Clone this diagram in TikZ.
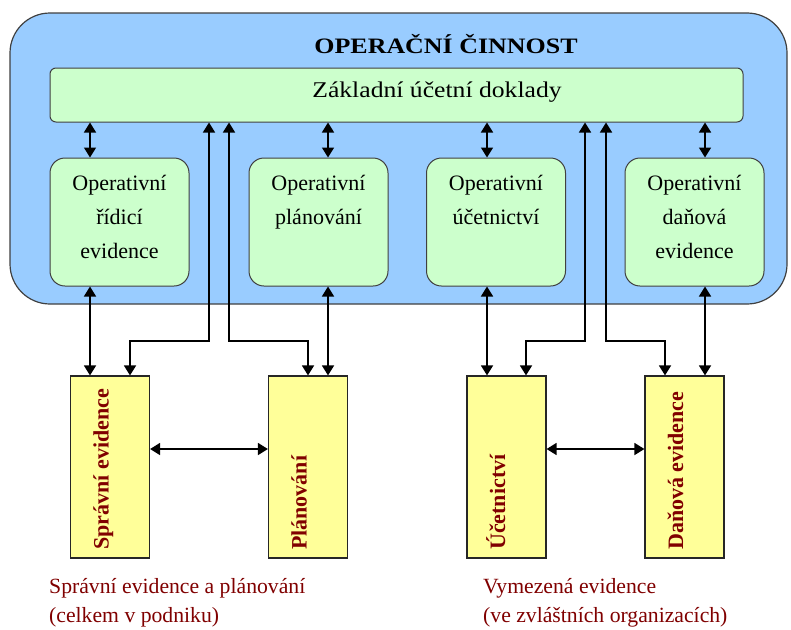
\documentclass[tikz,border=0pt]{standalone}
\usepackage{fontspec}
\setmainfont{Liberation Serif}
\newfontfamily\titlefont[FakeStretch=1.18]{Liberation Serif}
\newfontfamily\barfont[FakeStretch=1.14]{Liberation Serif}
\usetikzlibrary{arrows.meta}

\definecolor{opblue}{RGB}{153,204,255}
\definecolor{opgreen}{RGB}{204,255,204}
\definecolor{opyellow}{RGB}{255,255,153}
\definecolor{opred}{RGB}{128,0,0}
\definecolor{opedge}{RGB}{64,64,64}

\tikzset{
  opframe/.style={draw=opedge, line width=1.2pt, fill=opblue, rounded corners=40pt,
    minimum width=777pt, minimum height=291pt, inner sep=0pt},
  opbar/.style={draw=opedge, line width=1pt, fill=opgreen, rounded corners=6pt,
    minimum width=693pt, minimum height=54pt, inner sep=0pt},
  opbox/.style={draw=opedge, line width=1pt, fill=opgreen, rounded corners=15pt,
    minimum width=139pt, minimum height=128pt, inner sep=0pt},
  optext/.style={font=\fontsize{22}{34}\selectfont, align=center, inner sep=0pt, anchor=north},
  ybox/.style={draw=black!85, line width=1.2pt, fill=opyellow,
    minimum width=79pt, minimum height=182pt, inner sep=0pt},
  vlabel/.style={rotate=90, anchor=base west, inner sep=0pt, text=opred,
    font=\bfseries\fontsize{22}{26}\selectfont},
  caption/.style={anchor=base west, inner sep=0pt, text=opred,
    font=\fontsize{21.7}{26}\selectfont},
  link/.style={line width=1.6pt,
    {Triangle[length=10pt,width=12pt]}-{Triangle[length=10pt,width=12pt]}}
}

\begin{document}
\begin{tikzpicture}[x=1pt,y=-1pt]
\useasboundingbox (0,0) rectangle (791,629);

% operational activity frame
\node[opframe] (ops) at (398.5,158.5) {};
\node[anchor=base, inner sep=0pt, font=\titlefont\bfseries\fontsize{22}{26}\selectfont]
  (title) at (446,53) {OPERAČNÍ ČINNOST};

% basic accounting documents
\node[opbar] (bar) at (396.5,95) {};
\node[anchor=base, inner sep=0pt, font=\barfont\fontsize{22.5}{26}\selectfont]
  (bartext) at (437,97) {Základní účetní doklady};

% operative records
\node[opbox] (o1) at (119.5,222) {};
\node[opbox] (o2) at (318.5,222) {};
\node[opbox] (o3) at (496,222) {};
\node[opbox] (o4) at (694.5,222) {};
\node[optext] (t1) at (119.5,175) {Operativní\\řídicí\\evidence};
\node[optext] (t2) at (318.5,175) {Operativní\\plánování};
\node[optext] (t3) at (496,175) {Operativní\\účetnictví};
\node[optext] (t4) at (694.5,175) {Operativní\\daňová\\evidence};

% evidence blocks
\node[ybox] (y1) at (110,467) {};
\node[ybox] (y2) at (308,467) {};
\node[ybox] (y3) at (506.5,467) {};
\node[ybox] (y4) at (684.5,467) {};
\node[vlabel] (l1) at (108.5,550) {Správní evidence};
\node[vlabel] (l2) at (306.5,550) {Plánování};
\node[vlabel] (l3) at (505,550) {Účetnictví};
\node[vlabel] (l4) at (683,550) {Daňová evidence};

% captions
\node[caption] (c1a) at (49,593) {Správní evidence a plánování};
\node[caption] (c1b) at (49,622) {(celkem v podniku)};
\node[caption] (c2a) at (483,593) {Vymezená evidence};
\node[caption] (c2b) at (483,622) {(ve zvláštních organizacích)};

% connector columns and rows
\coordinate (xa) at (90,0);
\coordinate (xb) at (328,0);
\coordinate (xc) at (487,0);
\coordinate (xd) at (705,0);
\coordinate (xl1) at (209,0);
\coordinate (xl2) at (229,0);
\coordinate (xr1) at (585,0);
\coordinate (xr2) at (606,0);
\coordinate (xy1) at (130,0);
\coordinate (xy2) at (308,0);
\coordinate (xy3) at (526,0);
\coordinate (xy4) at (665,0);
\coordinate (bend) at (0,341);
\coordinate (hy) at (0,449);

% documents <-> operative records
\draw[link] (bar.south -| xa) -- (o1.north -| xa);
\draw[link] (bar.south -| xb) -- (o2.north -| xb);
\draw[link] (bar.south -| xc) -- (o3.north -| xc);
\draw[link] (bar.south -| xd) -- (o4.north -| xd);

% operative records <-> evidence blocks
\draw[link] (o1.south -| xa) -- (y1.north -| xa);
\draw[link] (o2.south -| xb) -- (y2.north -| xb);
\draw[link] (o3.south -| xc) -- (y3.north -| xc);
\draw[link] (o4.south -| xd) -- (y4.north -| xd);

% documents <-> evidence blocks
\draw[link] (bar.south -| xl1) -- (bend -| xl1) -- (bend -| xy1) -- (y1.north -| xy1);
\draw[link] (bar.south -| xl2) -- (bend -| xl2) -- (bend -| xy2) -- (y2.north -| xy2);
\draw[link] (bar.south -| xr1) -- (bend -| xr1) -- (bend -| xy3) -- (y3.north -| xy3);
\draw[link] (bar.south -| xr2) -- (bend -| xr2) -- (bend -| xy4) -- (y4.north -| xy4);

% between evidence blocks
\draw[link] (y1.east |- hy) -- (y2.west |- hy);
\draw[link] (y3.east |- hy) -- (y4.west |- hy);
\end{tikzpicture}
\end{document}
